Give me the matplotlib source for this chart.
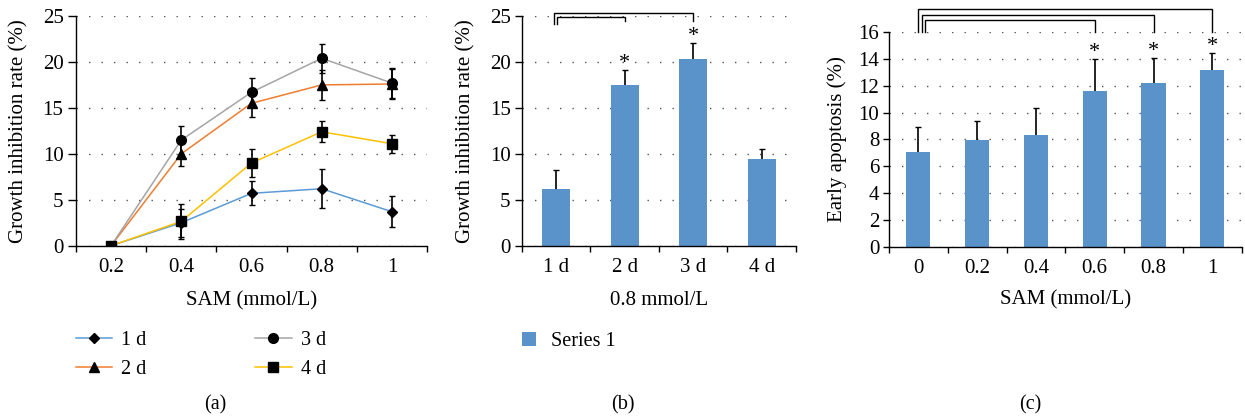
import numpy as np
import matplotlib
matplotlib.use("Agg")
import matplotlib.pyplot as plt

plt.rcParams["font.family"] = ["Liberation Serif", "DejaVu Serif"]
plt.rcParams["font.size"] = 15

# ---- data ----
doses_a = ["0.2", "0.4", "0.6", "0.8", "1"]
series_a = ["1 d", "2 d", "3 d", "4 d"]
rate_1d = [0, 2.5, 5.7, 6.2, 3.7]
rate_2d = [0, 10.0, 15.5, 17.5, 17.6]
rate_3d = [0, 11.5, 16.7, 20.4, 17.7]
rate_4d = [0, 2.65, 9.0, 12.4, 11.1]
err_1d = [0, 1.5, 1.3, 2.1, 1.7]
err_2d = [0, 1.3, 1.5, 1.6, 1.6]
err_3d = [0, 1.5, 1.5, 1.6, 1.6]
err_4d = [0, 1.9, 1.5, 1.15, 1.0]

days_b = ["1 d", "2 d", "3 d", "4 d"]
rate_b = [6.15, 17.5, 20.35, 9.4]
err_b = [2.05, 1.65, 1.7, 1.15]
star_b = [False, True, True, False]
brackets_b = [(0, 2), (0, 1)]  # (from, to) category index, outer first

doses_c = ["0", "0.2", "0.4", "0.6", "0.8", "1"]
apop_c = [7.05, 7.95, 8.3, 11.6, 12.25, 13.15]
err_c = [1.87, 1.4, 2.07, 2.4, 1.83, 1.27]
star_c = [False, False, False, True, True, True]
brackets_c = [(0, 5), (0, 4), (0, 3)]

line_colors = ["#5B9BD5", "#ED7D31", "#A5A5A5", "#FFC000"]
markers = ["D", "^", "o", "s"]
msizes = [5.5, 7, 7, 7]
bar_color = "#5A93CA"

W, H = 1245, 419
fig = plt.figure(figsize=(W / 100, H / 100), dpi=100)


def px_axes(l, r, t, b):
    return fig.add_axes([l / W, 1 - b / H, (r - l) / W, (b - t) / H])


def style(ax, n, ymax, ystep, tick_len=5):
    ax.set_xlim(-0.5, n - 0.5)
    ax.set_ylim(0, ymax)
    ax.set_yticks(np.arange(0, ymax + 0.01, ystep))
    ax.set_xticks(np.arange(n))
    ax.set_xticks(np.arange(n + 1) - 0.5, minor=True)
    ax.tick_params(axis="x", which="major", length=0, pad=9)
    ax.tick_params(axis="x", which="minor", length=4.5, width=1, direction="out")
    ax.tick_params(axis="y", length=tick_len, width=1, direction="out", pad=3)
    for s in ["top", "right"]:
        ax.spines[s].set_visible(False)
    for s in ["left", "bottom"]:
        ax.spines[s].set_linewidth(1.0)
    ax.yaxis.grid(True, linestyle=(0, (1, 8)), color="#555555", linewidth=1.0)
    ax.set_axisbelow(True)


def upper_errors(ax, xs, vals, errs):
    eb = ax.errorbar(xs, vals, yerr=[np.zeros(len(errs)), errs], fmt="none",
                     ecolor="black", elinewidth=1.2, capsize=2, capthick=1.0,
                     zorder=3)
    eb.lines[1][0].set_visible(False)  # no cap at the bar top


def bracket(ax, x0, x1, ytop, yleft, yright):
    ax.plot([x0, x0, x1, x1], [yleft, ytop, ytop, yright], color="black",
            lw=1.0, clip_on=False, solid_joinstyle="miter")


# ---- panel (a) ----
ax_a = px_axes(76, 427, 16, 245.7)
style(ax_a, len(doses_a), 25, 5, tick_len=6)
x = np.arange(len(doses_a))
rates = [rate_1d, rate_2d, rate_3d, rate_4d]
errs = [err_1d, err_2d, err_3d, err_4d]
for vals, e, c, m, ms, lab in zip(rates, errs, line_colors, markers, msizes, series_a):
    ax_a.plot(x, vals, color=c, lw=1.1, marker=m, ms=ms, mfc="black",
              mec="black", label=lab, zorder=3)
    ax_a.errorbar(x, vals, yerr=e, fmt="none", ecolor="black", elinewidth=1.2,
                  capsize=2.5, capthick=1.0, zorder=4)
ax_a.set_xticklabels(doses_a)
ax_a.set_ylabel("Growth inhibition rate (%)")
ax_a.yaxis.set_label_coords(-0.135, 0.5)
ax_a.set_xlabel("SAM (mmol/L)")
ax_a.xaxis.set_label_coords(0.5, -0.197)
fig.legend(*ax_a.get_legend_handles_labels(), loc="center left",
           bbox_to_anchor=(76 / W, 1 - 355 / H), ncol=2, frameon=False,
           fontsize=14.5, handlelength=1.8, handletextpad=0.45,
           columnspacing=5.4, labelspacing=0.45, borderpad=0, borderaxespad=0)

# ---- panel (b) ----
ax_b = px_axes(521.7, 796, 16, 245.7)
style(ax_b, len(days_b), 25, 5)
xb = np.arange(len(days_b))
ax_b.bar(xb, rate_b, width=0.41, color=bar_color, label="Series 1", zorder=2)
upper_errors(ax_b, xb, rate_b, err_b)
for xi, v, e, s in zip(xb, rate_b, err_b, star_b):
    if s:
        ax_b.text(xi, v + e - 0.3, "*", ha="center", va="bottom", fontsize=16)
ax_b.set_xticklabels(days_b)
ax_b.set_ylabel("Growth inhibition rate (%)")
ax_b.yaxis.set_label_coords(-0.17, 0.5)
ax_b.set_xlabel("0.8 mmol/L")
ax_b.xaxis.set_label_coords(0.5, -0.197)
for k, (i0, i1) in enumerate(brackets_b):
    bracket(ax_b, i0 - 0.025 + 0.035 * k, i1, 25.35 - 0.45 * k, 24.1, 24.45)
fig.legend(*ax_b.get_legend_handles_labels(), loc="center left",
           bbox_to_anchor=(521.7 / W, 1 - 341.5 / H), frameon=False,
           fontsize=14.5, handlelength=0.72, handleheight=0.72,
           handletextpad=0.75, borderpad=0, borderaxespad=0)

# ---- panel (c) ----
ax_c = px_axes(889, 1241.7, 32.3, 246.7)
style(ax_c, len(doses_c), 16, 2, tick_len=4)
xc = np.arange(len(doses_c))
ax_c.bar(xc, apop_c, width=0.41, color=bar_color, zorder=2)
upper_errors(ax_c, xc, apop_c, err_c)
for xi, v, e, s in zip(xc, apop_c, err_c, star_c):
    if s:
        ax_c.text(xi, v + e - 0.2, "*", ha="center", va="bottom", fontsize=16)
ax_c.set_xticklabels(doses_c)
ax_c.set_ylabel("Early apoptosis (%)")
ax_c.yaxis.set_label_coords(-0.12, 0.5)
ax_c.set_xlabel("SAM (mmol/L)")
ax_c.xaxis.set_label_coords(0.5, -0.205)
for k, (i0, i1) in enumerate(brackets_c):
    bracket(ax_c, i0 + 0.06 * k, i1, 17.72 - 0.4 * k, 16.05, 16.05)

# panel tags
for tag, xp in zip(["(a)", "(b)", "(c)"], [215, 623, 1030]):
    fig.text(xp / W, 1 - 405 / H, tag, ha="center", va="center", fontsize=14.5)

fig.savefig("out.png", dpi=100)
